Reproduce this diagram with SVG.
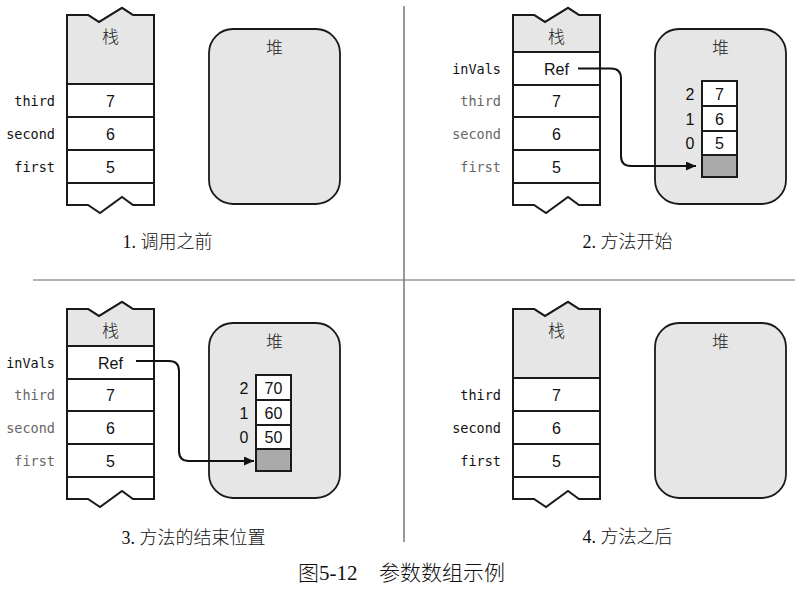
<svg xmlns="http://www.w3.org/2000/svg" width="805" height="593" viewBox="0 0 805 593">
<defs>
<style>
.bg{fill:#fff}
.outline{fill:#fff;stroke:#1a1a1a;stroke-width:2;stroke-linejoin:miter}
.hdr{fill:#e6e6e6;stroke:#1a1a1a;stroke-width:2}
.row{stroke:#1a1a1a;stroke-width:2;fill:none}
.heap{fill:#e6e6e6;stroke:#1a1a1a;stroke-width:1.8}
.cell{fill:#fff;stroke:#1a1a1a;stroke-width:2}
.cellg{fill:#aaa;stroke:#1a1a1a;stroke-width:2}
.lbl{font-family:"DejaVu Sans Mono","Liberation Mono",monospace;font-size:13.5px;text-anchor:end;fill:#111}
.lblg{font-family:"DejaVu Sans Mono","Liberation Mono",monospace;font-size:13.5px;text-anchor:end;fill:#666}
.val{font-family:"Liberation Sans",Arial,sans-serif;font-size:16px;text-anchor:middle;fill:#111}
.idx{font-family:"Liberation Sans",Arial,sans-serif;font-size:16px;text-anchor:middle;fill:#111}
.cjk{font-family:"Noto Sans CJK SC",sans-serif;font-size:17px;font-weight:300;text-anchor:middle;fill:#222}
.cap{font-family:"Liberation Serif","Noto Sans CJK SC",serif;font-size:18px;font-weight:300;text-anchor:middle;fill:#111}
.fig{font-family:"Liberation Serif","Noto Sans CJK SC",serif;font-size:21px;font-weight:300;fill:#111}
.conn{fill:none;stroke:#111;stroke-width:2}
.div{stroke:#999;stroke-width:1.5;fill:none}
</style>
<marker id="ah" markerUnits="userSpaceOnUse" markerWidth="10" markerHeight="9" refX="10" refY="4.5" orient="auto">
<path d="M0,0 L10,4.5 L0,9 z" fill="#111"/>
</marker>
</defs>
<rect class="bg" x="0" y="0" width="805" height="593"/>

<g id="dividers">
<line class="div" x1="33" y1="280" x2="795" y2="280"/>
<line class="div" x1="404" y1="6" x2="404" y2="542" style="stroke:#777"/>
</g>

<!-- Panel 1 -->
<g id="p1-stack">
<path class="outline" d="M67,15 L88,15 L99,22 L122,8 L133,15 L154,15 L154,205 L133,205 L122,197 L100,213 L88,205 L67,205 Z"/>
<path class="hdr" d="M67,15 L88,15 L99,22 L122,8 L133,15 L154,15 L154,84 L67,84 Z"/>
<path class="row" d="M67,117 H154 M67,150 H154 M67,183 H154"/>
<text class="cjk" x="110.5" y="43">栈</text>
<text class="lbl" x="55" y="106">third</text>
<text class="lbl" x="55" y="139">second</text>
<text class="lbl" x="55" y="172">first</text>
<text class="val" x="110.5" y="106.5">7</text>
<text class="val" x="110.5" y="139.5">6</text>
<text class="val" x="110.5" y="172.5">5</text>
</g>
<g id="p1-heap">
<rect class="heap" x="209" y="29" width="131" height="175" rx="24"/>
<text class="cjk" x="274.5" y="54">堆</text>
</g>
<text class="cap" x="167.5" y="248">1. 调用之前</text>

<!-- Panel 2 -->
<g id="p2-stack" transform="translate(446,0)">
<path class="outline" d="M67,15 L88,15 L99,22 L122,8 L133,15 L154,15 L154,205 L133,205 L122,197 L100,213 L88,205 L67,205 Z"/>
<path class="hdr" d="M67,15 L88,15 L99,22 L122,8 L133,15 L154,15 L154,52 L67,52 Z"/>
<path class="row" d="M67,85 H154 M67,117 H154 M67,150 H154 M67,183 H154"/>
<text class="cjk" x="110.5" y="43">栈</text>
<text class="lbl" x="55" y="74">inVals</text>
<text class="lblg" x="55" y="106">third</text>
<text class="lblg" x="55" y="139">second</text>
<text class="lblg" x="55" y="172">first</text>
<text class="val" x="110.5" y="74.5">Ref</text>
<text class="val" x="110.5" y="106.5">7</text>
<text class="val" x="110.5" y="139.5">6</text>
<text class="val" x="110.5" y="172.5">5</text>
</g>
<g id="p2-heap" transform="translate(446,0)">
<rect class="heap" x="209" y="29" width="131" height="175" rx="24"/>
<text class="cjk" x="274.5" y="54">堆</text>
</g>
<g id="p2-array" transform="translate(446,0)">
<rect class="cell" x="256" y="81" width="35" height="25"/>
<rect class="cell" x="256" y="106" width="35" height="25"/>
<rect class="cell" x="256" y="131" width="35" height="24"/>
<rect class="cellg" x="256" y="155" width="35" height="22"/>
<text class="idx" x="244" y="99.5">2</text>
<text class="idx" x="244" y="124.5">1</text>
<text class="idx" x="244" y="148.5">0</text>
<text class="val" x="273.5" y="99.5">7</text>
<text class="val" x="273.5" y="124.5">6</text>
<text class="val" x="273.5" y="148.5">5</text>
</g>
<text class="cap" x="627.5" y="248">2. 方法开始</text>

<!-- Panel 3 -->
<g id="p3-stack" transform="translate(0,294)">
<path class="outline" d="M67,15 L88,15 L99,22 L122,8 L133,15 L154,15 L154,205 L133,205 L122,197 L100,213 L88,205 L67,205 Z"/>
<path class="hdr" d="M67,15 L88,15 L99,22 L122,8 L133,15 L154,15 L154,52 L67,52 Z"/>
<path class="row" d="M67,85 H154 M67,117 H154 M67,150 H154 M67,183 H154"/>
<text class="cjk" x="110.5" y="43">栈</text>
<text class="lbl" x="55" y="74">inVals</text>
<text class="lblg" x="55" y="106">third</text>
<text class="lblg" x="55" y="139">second</text>
<text class="lblg" x="55" y="172">first</text>
<text class="val" x="110.5" y="74.5">Ref</text>
<text class="val" x="110.5" y="106.5">7</text>
<text class="val" x="110.5" y="139.5">6</text>
<text class="val" x="110.5" y="172.5">5</text>
</g>
<g id="p3-heap" transform="translate(0,294)">
<rect class="heap" x="209" y="29" width="131" height="175" rx="24"/>
<text class="cjk" x="274.5" y="54">堆</text>
</g>
<g id="p3-array" transform="translate(0,294)">
<rect class="cell" x="256" y="81" width="35" height="25"/>
<rect class="cell" x="256" y="106" width="35" height="25"/>
<rect class="cell" x="256" y="131" width="35" height="24"/>
<rect class="cellg" x="256" y="155" width="35" height="22"/>
<text class="idx" x="244" y="99.5">2</text>
<text class="idx" x="244" y="124.5">1</text>
<text class="idx" x="244" y="148.5">0</text>
<text class="val" x="273.5" y="99.5">70</text>
<text class="val" x="273.5" y="124.5">60</text>
<text class="val" x="273.5" y="148.5">50</text>
</g>
<text class="cap" x="193.5" y="544">3. 方法的结束位置</text>

<!-- Panel 4 -->
<g id="p4-stack" transform="translate(446,294)">
<path class="outline" d="M67,15 L88,15 L99,22 L122,8 L133,15 L154,15 L154,205 L133,205 L122,197 L100,213 L88,205 L67,205 Z"/>
<path class="hdr" d="M67,15 L88,15 L99,22 L122,8 L133,15 L154,15 L154,84 L67,84 Z"/>
<path class="row" d="M67,117 H154 M67,150 H154 M67,183 H154"/>
<text class="cjk" x="110.5" y="43">栈</text>
<text class="lbl" x="55" y="106">third</text>
<text class="lbl" x="55" y="139">second</text>
<text class="lbl" x="55" y="172">first</text>
<text class="val" x="110.5" y="106.5">7</text>
<text class="val" x="110.5" y="139.5">6</text>
<text class="val" x="110.5" y="172.5">5</text>
</g>
<g id="p4-heap" transform="translate(446,294)">
<rect class="heap" x="209" y="29" width="131" height="175" rx="24"/>
<text class="cjk" x="274.5" y="54">堆</text>
</g>
<text class="cap" x="627.5" y="543">4. 方法之后</text>

<g id="connectors">
<path class="conn" marker-end="url(#ah)" d="M578,68.5 H611 Q621,68.5 621,78.5 V156 Q621,166 631,166 H696"/>
<path class="conn" marker-end="url(#ah)" d="M136,361 H169 Q179,361 179,371 V451 Q179,461 189,461 H254"/>
</g>

<text class="fig" y="580"><tspan x="298">图5-12</tspan><tspan x="379">参数数组示例</tspan></text>
</svg>
